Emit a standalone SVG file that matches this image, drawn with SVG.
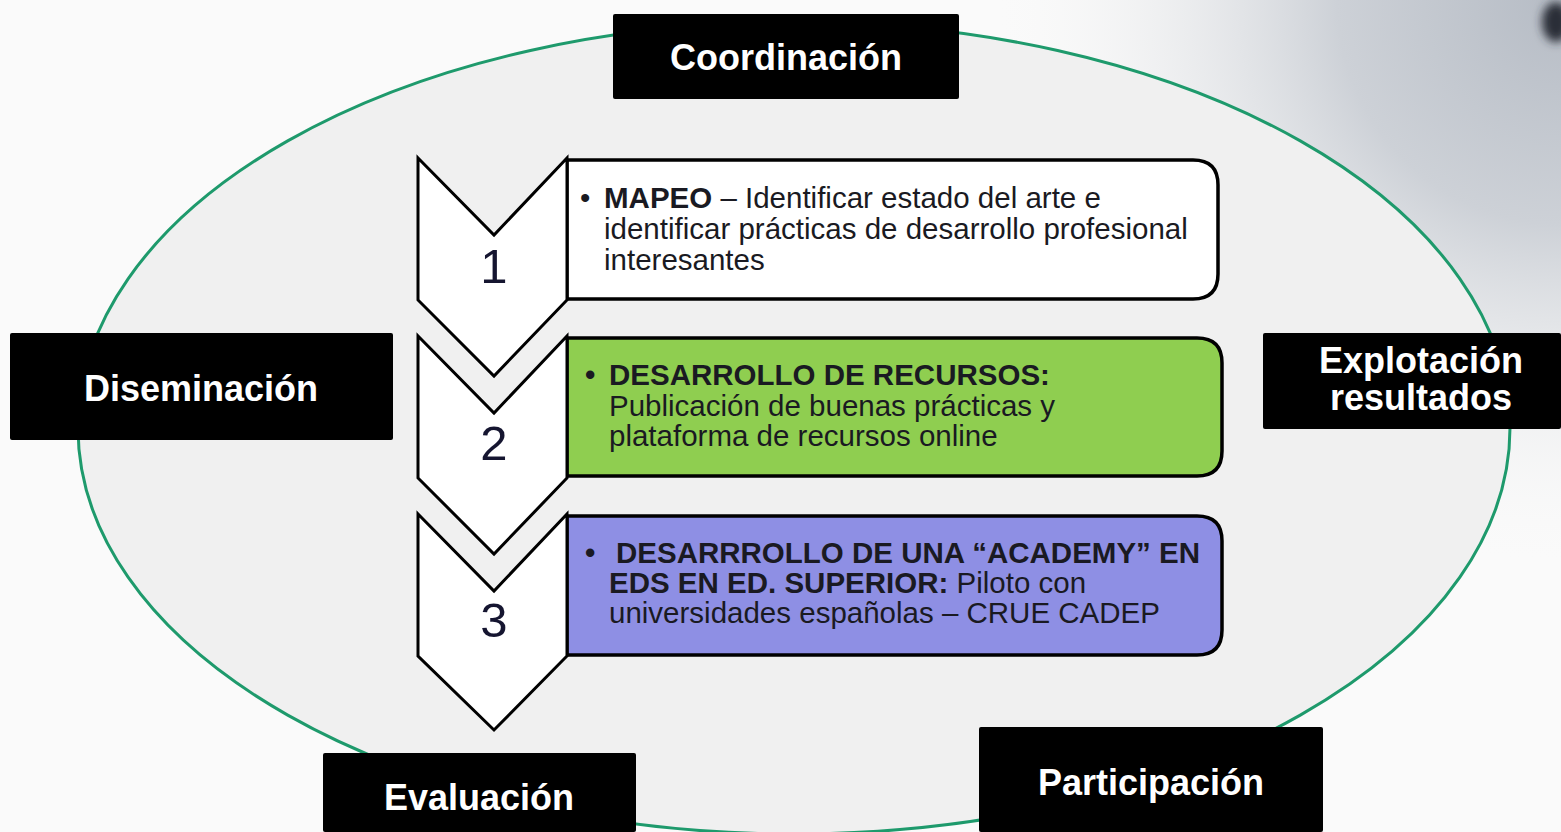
<svg xmlns="http://www.w3.org/2000/svg" width="1561" height="832" viewBox="0 0 1561 832">
<defs>
<radialGradient id="bgTR" cx="1561" cy="0" r="560" gradientUnits="userSpaceOnUse">
<stop offset="0" stop-color="#b6bcc5"/>
<stop offset="0.4" stop-color="#cdd1d7"/>
<stop offset="1" stop-color="#f5f5f5" stop-opacity="0"/>
</radialGradient>
<filter id="blur" x="-1" y="-1" width="3" height="3"><feGaussianBlur stdDeviation="5"/></filter>
<style>
.lbl{fill:#000;}
.lt{fill:#fff;font-family:"Liberation Sans",Arial,sans-serif;font-weight:bold;font-size:36px;text-anchor:middle;}
.chev{fill:#fff;stroke:#000;stroke-width:3;stroke-linejoin:miter;}
.box{stroke:#000;stroke-width:3.5;}
.num{font-family:"Liberation Sans",Arial,sans-serif;font-size:49px;text-anchor:middle;fill:#151530;}
.bt{font-family:"Liberation Sans",Arial,sans-serif;font-size:29.5px;fill:#1a1a22;}
.b{font-weight:bold;}
</style>
</defs>
<rect x="0" y="0" width="1561" height="832" fill="#fafafa"/>
<rect x="0" y="0" width="1561" height="832" fill="url(#bgTR)"/>
<ellipse cx="1556" cy="22" rx="14" ry="20" fill="#2a2f38" filter="url(#blur)"/>
<ellipse id="cycle" cx="794" cy="428" rx="716" ry="406" fill="#f0f0f0" stroke="#1e9a6c" stroke-width="3"/>

<g id="coordinacion">
<rect class="lbl" x="613" y="14" width="346" height="85" rx="2"/>
<text class="lt" x="786" y="70">Coordinación</text>
</g>
<g id="diseminacion">
<rect class="lbl" x="10" y="333" width="383" height="107" rx="2"/>
<text class="lt" x="201" y="401">Diseminación</text>
</g>
<g id="explotacion">
<rect class="lbl" x="1263" y="333" width="298" height="96" rx="2"/>
<text class="lt" x="1421" y="373">Explotación</text>
<text class="lt" x="1421" y="410">resultados</text>
</g>
<g id="evaluacion">
<rect class="lbl" x="323" y="753" width="313" height="79" rx="2"/>
<text class="lt" x="479" y="810">Evaluación</text>
</g>
<g id="participacion">
<rect class="lbl" x="979" y="727" width="344" height="105" rx="2"/>
<text class="lt" x="1151" y="795">Participación</text>
</g>

<g id="step1">
<path class="box" fill="#ffffff" d="M567,160 H1193 Q1218,160 1218,185 V274 Q1218,299 1193,299 H567 Z"/>
<polygon class="chev" points="418,158 494,235 567,158 567,300 494,376 418,300"/>
<text class="num" x="494" y="283">1</text>
<text class="bt" x="580" y="208">•</text>
<text class="bt" x="604" y="208"><tspan class="b">MAPEO</tspan> – Identificar estado del arte e</text>
<text class="bt" x="604" y="239">identificar prácticas de desarrollo profesional</text>
<text class="bt" x="604" y="270">interesantes</text>
</g>
<g id="step2">
<path class="box" fill="#8fce50" d="M567,338 H1197 Q1222,338 1222,363 V451 Q1222,476 1197,476 H567 Z"/>
<polygon class="chev" points="418,336 494,413 567,336 567,478 494,554 418,478"/>
<text class="num" x="494" y="460">2</text>
<text class="bt b" x="585" y="385">•</text>
<text class="bt b" x="609" y="385">DESARROLLO DE RECURSOS:</text>
<text class="bt" x="609" y="416">Publicación de buenas prácticas y</text>
<text class="bt" x="609" y="446">plataforma de recursos online</text>
</g>
<g id="step3">
<path class="box" fill="#8e8fe4" d="M567,516 H1197 Q1222,516 1222,541 V630 Q1222,655 1197,655 H567 Z"/>
<polygon class="chev" points="418,514 494,591 567,514 567,656 494,730 418,656"/>
<text class="num" x="494" y="637">3</text>
<text class="bt b" x="585" y="563" fill="#141440">•</text>
<text class="bt b" x="616" y="563" fill="#141440">DESARRROLLO DE UNA “ACADEMY” EN</text>
<text class="bt" x="609" y="593" fill="#141440"><tspan class="b">EDS EN ED. SUPERIOR:</tspan> Piloto con</text>
<text class="bt" x="609" y="623" fill="#141440">universidades españolas – CRUE CADEP</text>
</g>
<g id="connectors"/>
</svg>
